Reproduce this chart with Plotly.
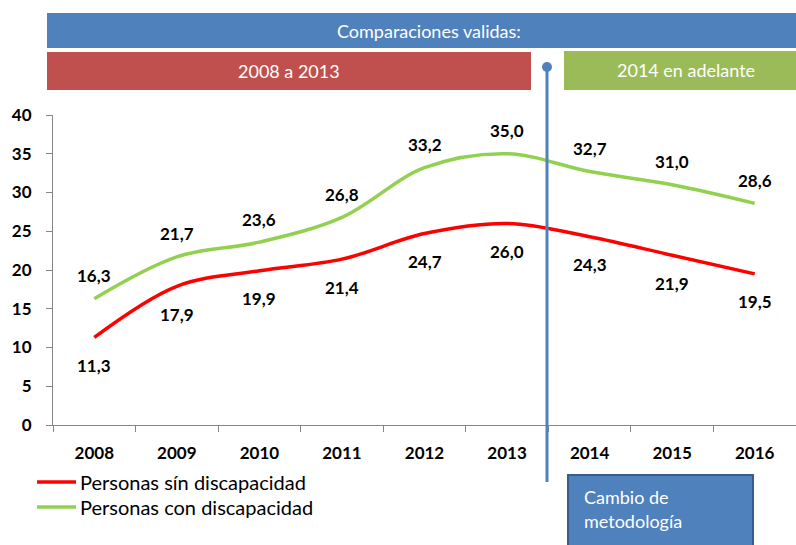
import plotly.graph_objects as go

years = ["2008", "2009", "2010", "2011", "2012", "2013", "2014", "2015", "2016"]
sin_disc = [11.3, 17.9, 19.9, 21.4, 24.7, 26.0, 24.3, 21.9, 19.5]
con_disc = [16.3, 21.7, 23.6, 26.8, 33.2, 35.0, 32.7, 31.0, 28.6]
name_sin = "Personas sín discapacidad"
name_con = "Personas con discapacidad"
color_sin = "#FF0000"
color_con = "#92D050"

W, H = 796, 545
ML, MR, MT, MB = 53, 0, 115, 120
PW, PH = W - ML - MR, H - MT - MB

def px(x):
    return (x - ML) / PW

def py(y):
    return (H - MB - y) / PH

FONT = "Lato"
BLUE = "#4F81BD"
RED_B = "#C0504D"
GREEN_B = "#9BBB59"

def fmt(v):
    return f"{v:.1f}".replace(".", ",")

fig = go.Figure()
fig.add_trace(go.Scatter(x=years, y=sin_disc, mode="lines", name=name_sin,
                         line=dict(color=color_sin, width=3.5, shape="spline", smoothing=1.0)))
fig.add_trace(go.Scatter(x=years, y=con_disc, mode="lines", name=name_con,
                         line=dict(color=color_con, width=3.5, shape="spline", smoothing=1.0)))

lbl_font = dict(family=FONT, size=17, color="black", weight="bold")
annotations = []
for i, v in enumerate(con_disc):
    annotations.append(dict(x=i, y=v, xref="x", yref="y", text=fmt(v), showarrow=False,
                            yshift=23, xanchor="center", yanchor="middle", font=lbl_font))
for i, v in enumerate(sin_disc):
    annotations.append(dict(x=i, y=v, xref="x", yref="y", text=fmt(v), showarrow=False,
                            yshift=-28, xanchor="center", yanchor="middle", font=lbl_font))

shapes = [
    dict(type="rect", xref="paper", yref="paper", x0=px(47), x1=px(797), y0=py(48), y1=py(13),
         fillcolor=BLUE, line=dict(width=0), layer="above"),
    dict(type="rect", xref="paper", yref="paper", x0=px(47), x1=px(531), y0=py(90), y1=py(52),
         fillcolor=RED_B, line=dict(width=0), layer="above"),
    dict(type="rect", xref="paper", yref="paper", x0=px(564), x1=px(797), y0=py(90), y1=py(51),
         fillcolor=GREEN_B, line=dict(width=0), layer="above"),
    dict(type="line", xref="paper", yref="paper", x0=px(547), x1=px(547), y0=py(67), y1=py(482),
         line=dict(color=BLUE, width=3), layer="above"),
    dict(type="circle", xref="paper", yref="paper", x0=px(542), x1=px(552), y0=py(62), y1=py(72),
         fillcolor=BLUE, line=dict(width=0), layer="above"),
    dict(type="rect", xref="paper", yref="paper", x0=px(568), x1=px(753), y0=py(550), y1=py(475),
         fillcolor=BLUE, line=dict(color="#385D8A", width=2), layer="above"),
    # legend samples
    dict(type="line", xref="paper", yref="paper", x0=px(37), x1=px(76), y0=py(482), y1=py(482),
         line=dict(color=color_sin, width=3.5), layer="above"),
    dict(type="line", xref="paper", yref="paper", x0=px(37), x1=px(76), y0=py(507), y1=py(507),
         line=dict(color=color_con, width=3.5), layer="above"),
]

wfont = dict(family=FONT, size=18, color="white")
annotations += [
    dict(xref="paper", yref="paper", x=px(429), y=py(31), text="Comparaciones validas:",
         showarrow=False, xanchor="center", yanchor="middle", font=wfont),
    dict(xref="paper", yref="paper", x=px(289), y=py(71), text="2008 a 2013",
         showarrow=False, xanchor="center", yanchor="middle", font=wfont),
    dict(xref="paper", yref="paper", x=px(686), y=py(70), text="2014 en adelante",
         showarrow=False, xanchor="center", yanchor="middle", font=wfont),
    dict(xref="paper", yref="paper", x=px(582), y=py(497), xanchor="left", yanchor="middle",
         text="Cambio de", showarrow=False, font=wfont),
    dict(xref="paper", yref="paper", x=px(582), y=py(521), xanchor="left", yanchor="middle",
         text="metodología", showarrow=False, font=wfont),
    dict(xref="paper", yref="paper", x=px(78), y=py(482), xanchor="left", yanchor="middle",
         text=name_sin, showarrow=False, font=dict(family=FONT, size=20, color="black")),
    dict(xref="paper", yref="paper", x=px(78), y=py(507), xanchor="left", yanchor="middle",
         text=name_con, showarrow=False, font=dict(family=FONT, size=20, color="black")),
]

fig.update_layout(
    width=W, height=H,
    margin=dict(l=ML, r=MR, t=MT, b=MB, autoexpand=False),
    paper_bgcolor="white", plot_bgcolor="white",
    shapes=shapes, annotations=annotations,
    showlegend=False,
    xaxis=dict(type="category", showgrid=False, showline=True, linecolor="#868686", linewidth=1,
               ticks="outside", tickson="boundaries", ticklen=6, tickcolor="#868686",
               ticklabelstandoff=13,
               tickfont=dict(family=FONT, size=17, color="black", weight="bold"),
               range=[-0.5, 8.5]),
    yaxis=dict(range=[0, 40], dtick=5, showgrid=False, showline=True, linecolor="#868686",
               linewidth=1, ticks="outside", ticklen=6, tickcolor="#868686", zeroline=False,
               ticklabelstandoff=11,
               tickfont=dict(family=FONT, size=17, color="black", weight="bold")),
)

fig.write_html("out.html", config={"displayModeBar": False},
               post_script="document.body.style.margin='0';")
